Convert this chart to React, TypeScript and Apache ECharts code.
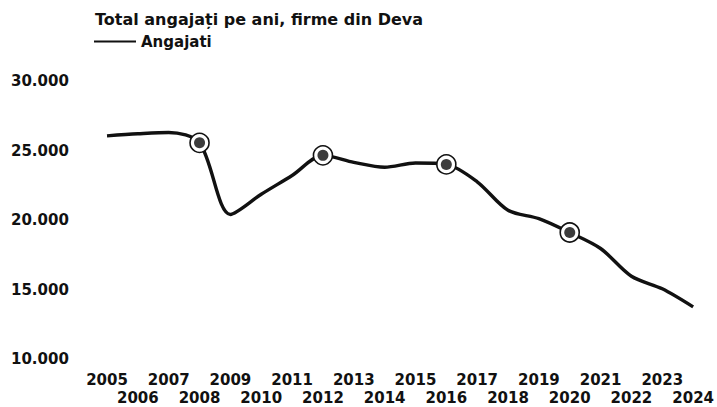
import React, { useEffect, useRef } from "react";
import * as echarts from "echarts";

const years = ["2005","2006","2007","2008","2009","2010","2011","2012","2013","2014","2015","2016","2017","2018","2019","2020","2021","2022","2023","2024"];
const angajati = [26050, 26200, 26300, 25550, 20400, 21850, 23200, 24650, 24150, 23800, 24100, 24000, 22750, 20700, 20100, 19100, 17950, 15950, 15050, 13750];
const markerYears = ["2008", "2012", "2016", "2020"];
const yMin = 10000;
const yMax = 30000;
const yStep = 5000;

const FONT = "'DejaVu Sans', 'Liberation Sans', Arial, sans-serif";

function fmt(v: number): string {
  const s = String(Math.round(v));
  return s.replace(/\B(?=(\d{3})+(?!\d))/g, ".");
}

export default function App() {
  const ref = useRef<HTMLDivElement>(null);
  useEffect(() => {
    if (!ref.current) return;
    const chart = echarts.init(ref.current, null, { renderer: "svg" });
    const markerData = markerYears.map((y) => [y, angajati[years.indexOf(y)]]);
    chart.setOption({
      animation: false,
      backgroundColor: "#ffffff",
      title: {
        text: "Total angajați pe ani, firme din Deva",
        left: 95,
        top: 11,
        padding: 0,
        textStyle: { fontFamily: FONT, fontSize: 16, fontWeight: "bold", color: "#111" },
      },
      legend: {
        data: ["Angajati"],
        left: 94,
        top: 34,
        padding: 0,
        itemWidth: 42,
        itemHeight: 2,
        itemGap: 5,
        icon: "rect",
        textStyle: { fontFamily: FONT, fontSize: 15, fontWeight: "bold", color: "#111" },
      },
      grid: { left: 107, right: 22, top: 81, bottom: 48, containLabel: false },
      xAxis: {
        type: "category",
        data: years,
        boundaryGap: false,
        axisLine: { show: false },
        axisTick: { show: false },
        splitLine: { show: false },
        axisLabel: {
          interval: 0,
          margin: 12,
          fontFamily: FONT,
          fontSize: 15,
          fontWeight: "bold",
          color: "#111",
          lineHeight: 18,
          formatter: (v: string, i: number) => (i % 2 === 0 ? v : "\n" + v),
        },
      },
      yAxis: {
        type: "value",
        min: yMin,
        max: yMax,
        interval: yStep,
        axisLine: { show: false },
        axisTick: { show: false },
        splitLine: { show: false },
        axisLabel: {
          align: "left",
          margin: 96,
          fontFamily: FONT,
          fontSize: 15,
          fontWeight: "bold",
          color: "#111",
          formatter: (v: number) => fmt(v),
        },
      },
      series: [
        {
          name: "Angajati",
          type: "line",
          data: angajati,
          smooth: 0.3,
          showSymbol: false,
          symbol: "none",
          lineStyle: { color: "#111", width: 3.4 },
          itemStyle: { color: "#111" },
          z: 2,
        },
        {
          name: "markerOuter",
          type: "scatter",
          data: markerData,
          symbol: "circle",
          symbolSize: 19,
          itemStyle: { color: "#ffffff", borderColor: "#111", borderWidth: 1.6, opacity: 1 },
          z: 3,
          silent: true,
        },
        {
          name: "markerInner",
          type: "scatter",
          data: markerData,
          symbol: "circle",
          symbolSize: 11,
          itemStyle: { color: "#3c3c3c", opacity: 1 },
          z: 4,
          silent: true,
        },
      ],
    });
    return () => chart.dispose();
  }, []);
  return (
    <div
      ref={ref}
      style={{ position: "absolute", left: 0, top: 0, width: 717, height: 407, background: "#fff" }}
    />
  );
}
